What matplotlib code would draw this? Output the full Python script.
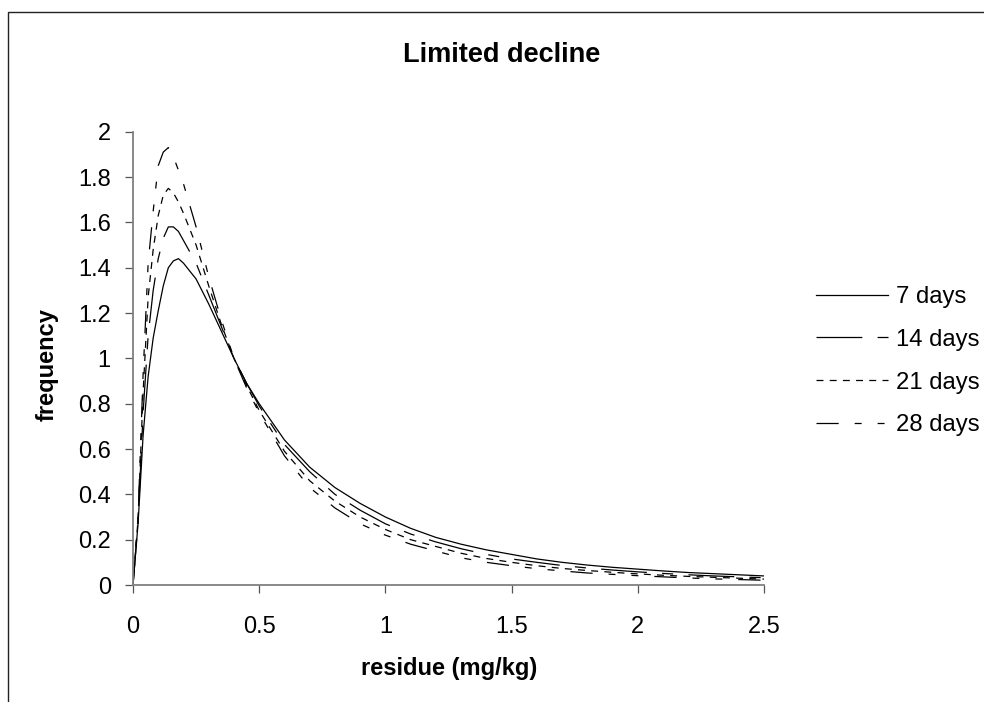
import matplotlib
matplotlib.use("Agg")
import matplotlib.pyplot as plt
from matplotlib.patches import Rectangle

# --- data ---
residue = [0, 0.02, 0.04, 0.06, 0.08, 0.10, 0.12, 0.14, 0.16, 0.18, 0.20,
           0.25, 0.30, 0.35, 0.40, 0.45, 0.50, 0.60, 0.70, 0.80, 0.90,
           1.00, 1.10, 1.20, 1.30, 1.40, 1.50, 1.60, 1.70, 1.80, 1.90,
           2.00, 2.10, 2.20, 2.30, 2.40, 2.50]

days_7 = [0, 0.27, 0.66, 0.92, 1.09, 1.21, 1.32, 1.40, 1.43, 1.44, 1.42,
          1.35, 1.24, 1.12, 1.00, 0.89, 0.80, 0.64, 0.52, 0.43, 0.36,
          0.30, 0.25, 0.21, 0.18, 0.155, 0.135, 0.115, 0.10, 0.088, 0.078,
          0.070, 0.062, 0.055, 0.050, 0.045, 0.040]

days_14 = [0, 0.28, 0.76, 1.10, 1.30, 1.44, 1.53, 1.58, 1.58, 1.56, 1.52,
           1.42, 1.28, 1.14, 1.00, 0.89, 0.79, 0.62, 0.50, 0.40, 0.33,
           0.27, 0.225, 0.19, 0.16, 0.135, 0.115, 0.10, 0.086, 0.075, 0.066,
           0.058, 0.051, 0.045, 0.040, 0.036, 0.032]

days_21 = [0, 0.29, 0.85, 1.27, 1.48, 1.63, 1.72, 1.75, 1.73, 1.69, 1.64,
           1.50, 1.32, 1.15, 1.00, 0.88, 0.77, 0.59, 0.46, 0.37, 0.30,
           0.245, 0.20, 0.17, 0.14, 0.117, 0.10, 0.085, 0.073, 0.064, 0.056,
           0.049, 0.043, 0.038, 0.034, 0.030, 0.026]

days_28 = [0, 0.30, 0.93, 1.42, 1.65, 1.85, 1.91, 1.93, 1.89, 1.83, 1.77,
           1.58, 1.36, 1.17, 1.00, 0.87, 0.76, 0.57, 0.43, 0.34, 0.27,
           0.22, 0.18, 0.15, 0.12, 0.10, 0.085, 0.072, 0.062, 0.053, 0.047,
           0.041, 0.036, 0.031, 0.027, 0.024, 0.021]

labels = ["7 days", "14 days", "21 days", "28 days"]
series = [days_7, days_14, days_21, days_28]
# dash patterns in points (not scaled by line width)
styles = ["-", (0, (33, 11, 8, 11)), (0, (5, 4.5)), (0, (16, 11.5, 5, 11.5, 5, 11.5))]

plt.rcParams["font.family"] = ["Liberation Sans", "DejaVu Sans"]
plt.rcParams["lines.scale_dashes"] = False

fig = plt.figure(figsize=(9.84, 7.02), dpi=100)
ax = fig.add_axes([133 / 984, 1 - 585 / 702, 631 / 984, 453.3 / 702])

for ys, lab, ls in zip(series, labels, styles):
    ax.plot(residue, ys, color="black", linewidth=0.9, linestyle=ls, label=lab)

ax.set_xlim(0, 2.5)
ax.set_ylim(0, 2)
ax.set_xticks([0, 0.5, 1, 1.5, 2, 2.5])
ax.set_xticklabels(["0", "0.5", "1", "1.5", "2", "2.5"])
ax.set_yticks([0, 0.2, 0.4, 0.6, 0.8, 1, 1.2, 1.4, 1.6, 1.8, 2])
ax.set_yticklabels(["0", "0.2", "0.4", "0.6", "0.8", "1", "1.2", "1.4", "1.6", "1.8", "2"])
ax.tick_params(direction="out", length=6, width=0.9, labelsize=17, color="#555555")
ax.tick_params(axis="y", pad=10)
ax.tick_params(axis="x", pad=16)
for side in ["top", "right"]:
    ax.spines[side].set_visible(False)
for side in ["left", "bottom"]:
    ax.spines[side].set_color("#808080")
    ax.spines[side].set_linewidth(1.3)

fig.text(502 / 984, 1 - 61.7 / 702, "Limited decline", ha="center", va="baseline",
         fontsize=19.5, fontweight="bold")
fig.text(449 / 984, 1 - 675 / 702, "residue (mg/kg)", ha="center", va="baseline",
         fontsize=17, fontweight="bold")
fig.text(47 / 984, 1 - 365 / 702, "frequency", ha="center", va="center",
         rotation=90, fontsize=17, fontweight="bold")

ax.legend(loc="upper left", bbox_to_anchor=(816 / 984, 1 - 286 / 702),
          bbox_transform=fig.transFigure, frameon=False, fontsize=17.2,
          handlelength=3.0, handletextpad=0.36, labelspacing=0.87,
          borderpad=0, borderaxespad=0)

# outer chart border (runs off the right and bottom edges)
fig.patches.append(Rectangle((8 / 984, -0.05), 1.1, 1 - 12 / 702 + 0.05,
                             transform=fig.transFigure, fill=False,
                             edgecolor="#222222", linewidth=1.0))

fig.savefig("out.png", dpi=100)
